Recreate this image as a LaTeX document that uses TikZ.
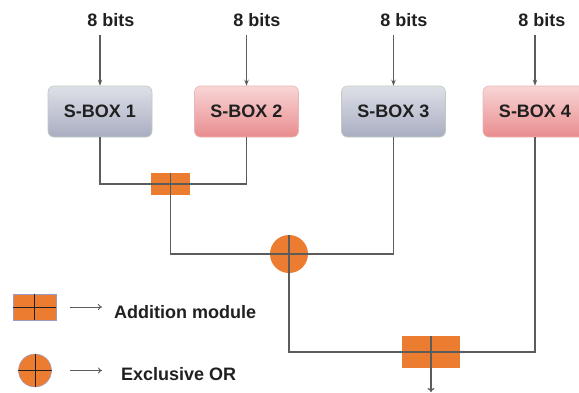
\documentclass[tikz,border=0pt]{standalone}
\usepackage{fontspec}
\setmainfont{Liberation Sans}
\usetikzlibrary{arrows.meta,calc}
\definecolor{org}{HTML}{EC7C30}
\definecolor{wire}{HTML}{5C5C5C}
\definecolor{txt}{HTML}{202020}
\begin{document}
\begin{tikzpicture}[x=1pt,y=-1pt,
  lbl/.style={inner sep=0pt,text=txt,font=\fontsize{18}{20}\selectfont\bfseries},
  sbox/.style={rectangle,rounded corners=6pt,minimum width=104pt,minimum height=51pt,inner sep=0pt,
     text=txt,font=\fontsize{18}{20}\selectfont\bfseries,line width=0.6pt},
  graybox/.style={sbox,draw=HTML-gray-border,top color=gray1,bottom color=gray2},
  pinkbox/.style={sbox,draw=pinkborder,top color=pink1,bottom color=pink2},
  addmod/.style={rectangle,fill=org,inner sep=0pt},
  xorop/.style={circle,fill=org,inner sep=0pt},
  wireline/.style={draw=wire,line width=1.2pt},
  inarr/.style={wireline,-{Stealth[length=6pt,width=4.5pt]}},
  legarr/.style={draw=wire,line width=0.9pt,-{To[length=4pt,width=6pt]}}
]
\colorlet{HTML-gray-border}{green!10!gray!45}
\definecolor{gray1}{HTML}{DEE0E8}
\definecolor{gray2}{HTML}{A9ADC1}
\definecolor{pink1}{HTML}{F8D6D6}
\definecolor{pink2}{HTML}{E98C8E}
\definecolor{pinkborder}{HTML}{EBB5B5}
\useasboundingbox (0,0) rectangle (579,392);

% labels
\node[lbl] (t1) at (111,20.5) {8 bits};
\node[lbl] (t2) at (257,20.5) {8 bits};
\node[lbl] (t3) at (404,20.5) {8 bits};
\node[lbl] (t4) at (542,20.5) {8 bits};

% s-boxes
\node[graybox] (b1) at (100,111.5) {S-BOX 1};
\node[pinkbox] (b2) at (246.5,111.5) {S-BOX 2};
\node[graybox] (b3) at (393.5,111.5) {S-BOX 3};
\node[pinkbox] (b4) at (535,111.5) {S-BOX 4};

% input arrows
\draw[inarr,shorten <=8pt] (b1.north |- t1.south) -- (b1.north);
\draw[inarr,shorten <=8pt] (b2.north |- t2.south) -- (b2.north);
\draw[inarr,shorten <=8pt] (b3.north |- t3.south) -- (b3.north);
\draw[inarr,shorten <=8pt] (b4.north |- t4.south) -- (b4.north);

% operators
\node[addmod,minimum width=39pt,minimum height=22pt] (a1) at (170.5,184) {};
\node[xorop,minimum size=38pt] (x1) at (289,254) {};
\node[addmod,minimum width=58pt,minimum height=32pt] (a2) at (431,352) {};
\coordinate (out) at (431,392);

% wiring
\draw[wireline] (b1.south) |- (a1.center) -| (b2.south);
\draw[wireline] (a1.north) |- (x1.center);
\draw[wireline] (b3.south) |- (x1.center);
\draw[wireline] (x1.north) |- (a2.center);
\draw[wireline] (b4.south) |- (a2.center);
\draw[wireline] (a2.north) -- (a2.south);
\draw[draw=wire,line width=1.2pt,-{To[length=4pt,width=7pt]}] (a2.south) -- (out);

% legend
\node[addmod,draw=blue!30!gray!60,line width=0.5pt,minimum width=43pt,minimum height=26pt] (la) at (34.5,307) {};
\draw[draw=txt,line width=1pt] (la.north) -- (la.south) (la.west) -- (la.east);
\node[lbl,anchor=west] (ta) at (114,312.5) {Addition module};
\draw[legarr,shorten <=14pt,shorten >=12pt] (la.east) -- (la.east -| ta.west);

\node[xorop,draw=blue!30!gray!60,line width=0.5pt,minimum size=33pt] (lx) at (35,370.5) {};
\draw[draw=txt,line width=1pt] (lx.north) -- (lx.south) (lx.west) -- (lx.east);
\node[lbl,anchor=west] (tx) at (121,374.5) {Exclusive OR};
\coordinate (lxa) at (70,371);
\draw[legarr,shorten <=18pt,shorten >=19pt] (lx.east) -- (lx.east -| tx.west);
\end{tikzpicture}
\end{document}
